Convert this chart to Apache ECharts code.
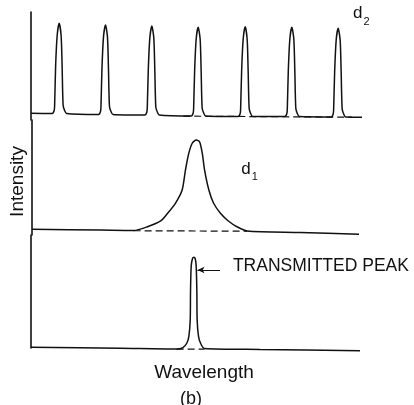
<!DOCTYPE html>
<html>
<head>
<meta charset="utf-8">
<script src="https://cdn.jsdelivr.net/npm/echarts@6/dist/echarts.min.js"></script>
<style>
  html, body { margin: 0; padding: 0; background: #fff; }
  #chart { width: 414px; height: 405px; }
</style>
</head>
<body>
<div id="chart"></div>
<script>
// [wavelength, intensity] (arbitrary units, 0-100)
var waveD2 = [
  [0, 6.2], [6.4, 6.0], [7.0, 8.8], [7.14, 13.7], [7.44, 50], [7.9, 78], [8.5, 89.5], [9.1, 78], [9.4, 50], [9.7, 13.7], [10.16, 8.8], [10.77, 6.0],
  [20.4, 5.1], [21.0, 7.9], [21.14, 12.8], [21.44, 48], [21.9, 77], [22.5, 88], [23.1, 77], [23.4, 48], [23.7, 12.8], [24.16, 7.9], [24.77, 5.1],
  [34.4, 4.6], [35.0, 7.4], [35.14, 12.3], [35.44, 47], [35.9, 76], [36.5, 87], [37.1, 76], [37.4, 47], [37.7, 12.3], [38.16, 7.4], [38.77, 4.6],
  [48.4, 3.7], [49.0, 6.5], [49.14, 11.4], [49.44, 46], [49.9, 75], [50.5, 85.8], [51.1, 75], [51.4, 46], [51.7, 11.4], [52.16, 6.5], [52.77, 3.7],
  [62.6, 3.2], [63.2, 6.0], [63.34, 10.9], [63.64, 46], [64.1, 75], [64.7, 86.4], [65.3, 75], [65.6, 46], [65.9, 10.9], [66.36, 6.0], [66.97, 3.2],
  [76.7, 3.2], [77.3, 6.0], [77.44, 10.9], [77.74, 46], [78.2, 75], [78.8, 85.8], [79.4, 75], [79.7, 46], [80.0, 10.9], [80.46, 6.0], [81.07, 3.2],
  [90.7, 2.8], [91.3, 5.6], [91.44, 10.5], [91.74, 45], [92.2, 74], [92.8, 84.9], [93.4, 74], [93.7, 45], [94.0, 10.5], [94.46, 5.6], [95.07, 2.8],
  [100, 2.6]
]
var baseD2 = [[46, 3.6], [97, 2.6]]

var waveD1 = [
  [0, 5.0], [20.8, 4.3], [30.8, 3.9], [35.0, 7.2], [39.0, 12.2], [41.1, 18.9], [43.5, 27.8], [45.5, 39.1],
  [46.5, 56.5], [47.5, 71.0], [48.6, 80.0], [49.8, 82.6], [50.8, 80.9], [51.6, 71.0], [52.3, 56.5],
  [53.6, 39.1], [55.0, 27.8], [57.1, 18.9], [59.5, 12.2], [62.1, 7.2], [65.2, 3.5], [81.3, 2.2], [99.1, 0.6]
]
var baseD1 = [[30.8, 3.7], [65.2, 3.3]]

var waveOut = [
  [0, 0.6], [26.9, -0.2], [44.0, -0.9], [45.9, 0.4], [47.1, 4.4], [47.7, 10.6], [48.1, 24.8], [48.2, 51.3],
  [48.4, 72.6], [48.8, 79.2], [49.2, 80.3], [49.6, 79.2], [49.9, 72.6], [50.1, 51.3], [50.2, 24.8],
  [50.6, 10.6], [51.2, 4.4], [52.4, -0.4], [69.2, -1.3], [99.4, -2.4]
]
var baseOut = [[44.0, -1.0], [52.4, -1.0]]

var arrowFrom = [57.1, 69]
var arrowTo = [50.3, 69]
var peakText = 'TRANSMITTED PEAK'

var ink = '#111'
var font = '"Liberation Sans", Arial, sans-serif'

var chart = echarts.init(document.getElementById('chart'), null, { renderer: 'canvas' })

function yAx (idx, name) {
  return {
    type: 'value', gridIndex: idx, min: 0, max: 100,
    axisLine: { show: true, lineStyle: { color: ink, width: 1.6 } },
    axisTick: { show: false }, axisLabel: { show: false }, splitLine: { show: false },
    name: name || '', nameLocation: 'middle', nameGap: 5, nameRotate: 90,
    nameTextStyle: { color: ink, fontSize: 19, fontFamily: font, padding: [0, 8, 0, 0] }
  }
}
function xAx (idx, name) {
  return {
    type: 'value', gridIndex: idx, min: 0, max: 100,
    axisLine: { show: false }, axisTick: { show: false }, axisLabel: { show: false }, splitLine: { show: false },
    name: name || '', nameLocation: 'middle', nameGap: 15,
    nameTextStyle: { color: ink, fontSize: 19, fontFamily: font, padding: [0, 0, 0, 15] }
  }
}
function trace (idx, data) {
  return {
    type: 'line', xAxisIndex: idx, yAxisIndex: idx, data: data,
    showSymbol: false, smooth: 0.25, clip: false, silent: true,
    lineStyle: { color: ink, width: 1.5 }
  }
}
function dashed (idx, data) {
  return {
    type: 'line', xAxisIndex: idx, yAxisIndex: idx, data: data,
    showSymbol: false, clip: false, silent: true, z: 1,
    lineStyle: { color: ink, width: 1.2, type: [7, 4] }
  }
}
function subLabel (sub) {
  return {
    formatter: '{d|d}{s|' + sub + '}',
    rich: {
      d: { fontSize: 17, lineHeight: 20, color: ink, fontFamily: font, verticalAlign: 'top' },
      s: { fontSize: 11, lineHeight: 11, color: ink, fontFamily: font, padding: [11, 0, 0, 1], verticalAlign: 'top' }
    }
  }
}

var s2 = trace(0, waveD2)
s2.markPoint = {
  symbol: 'circle', symbolSize: 0, silent: true,
  label: Object.assign({ show: true, position: 'right', distance: 0 }, subLabel('2')),
  data: [{ coord: [97.3, 97] }]
}
var s1 = trace(1, waveD1)
s1.markPoint = {
  symbol: 'circle', symbolSize: 0, silent: true,
  label: Object.assign({ show: true, position: 'right', distance: 0 }, subLabel('1')),
  data: [{ coord: [63.4, 56] }]
}
var s0 = trace(2, waveOut)
s0.markLine = {
  symbol: ['none', 'arrow'], symbolSize: [5, 7], silent: true,
  lineStyle: { color: ink, width: 1, type: 'solid' },
  label: { show: false },
  data: [[{ coord: arrowFrom }, { coord: arrowTo }]]
}
s0.markPoint = {
  symbol: 'circle', symbolSize: 0, silent: true,
  label: { show: true, position: 'right', distance: 0, formatter: peakText, color: ink, fontSize: 17.5, fontFamily: font },
  data: [{ coord: [61, 72.5] }]
}

chart.setOption({
  animation: false,
  grid: [
    { left: 31, right: 52, top: 12, height: 108 },
    { left: 31, right: 52, top: 120, height: 115 },
    { left: 31, right: 52, top: 235, height: 113 }
  ],
  xAxis: [xAx(0), xAx(1), xAx(2, 'Wavelength')],
  yAxis: [yAx(0), yAx(1, 'Intensity'), yAx(2)],
  series: [s2, dashed(0, baseD2), s1, dashed(1, baseD1), s0, dashed(2, baseOut)],
  graphic: [{
    type: 'text', left: 180, top: 390,
    style: { text: '(b)', fill: ink, fontSize: 18, fontFamily: font }
  }]
})
</script>
</body>
</html>
